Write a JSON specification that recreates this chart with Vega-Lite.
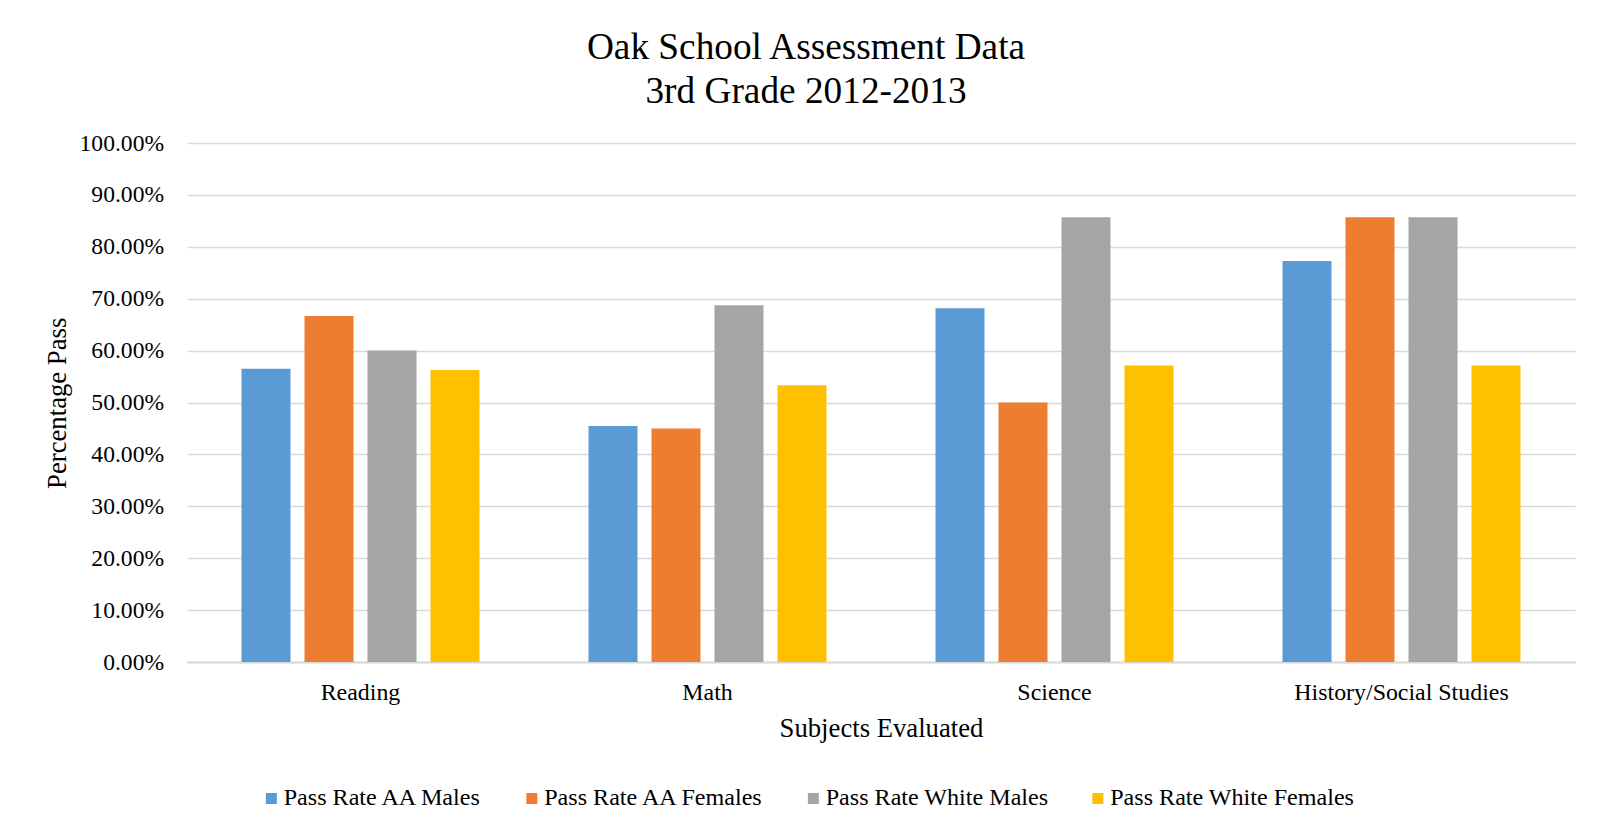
{
  "$schema": "https://vega.github.io/schema/vega-lite/v6.json",
  "width": 1388,
  "height": 519,
  "autosize": "none",
  "padding": {"left": 187, "top": 143, "right": 25, "bottom": 169},
  "background": "white",
  "config": {"view": {"stroke": null}},
  "title": {
    "text": ["Oak School Assessment Data", "3rd Grade 2012-2013"],
    "font": "Liberation Serif",
    "fontSize": 37.3,
    "fontWeight": "normal",
    "color": "black",
    "anchor": "middle",
    "frame": "group",
    "baseline": "bottom",
    "lineHeight": 43.7,
    "dx": -75,
    "offset": -17
  },
  "data": {
    "values": [
      {"subject": "Reading", "group": "Pass Rate AA Males", "rate": 0.5652},
      {"subject": "Reading", "group": "Pass Rate AA Females", "rate": 0.6667},
      {"subject": "Reading", "group": "Pass Rate White Males", "rate": 0.6},
      {"subject": "Reading", "group": "Pass Rate White Females", "rate": 0.5625},
      {"subject": "Math", "group": "Pass Rate AA Males", "rate": 0.4545},
      {"subject": "Math", "group": "Pass Rate AA Females", "rate": 0.45},
      {"subject": "Math", "group": "Pass Rate White Males", "rate": 0.6875},
      {"subject": "Math", "group": "Pass Rate White Females", "rate": 0.5333},
      {"subject": "Science", "group": "Pass Rate AA Males", "rate": 0.6818},
      {"subject": "Science", "group": "Pass Rate AA Females", "rate": 0.5},
      {"subject": "Science", "group": "Pass Rate White Males", "rate": 0.8571},
      {"subject": "Science", "group": "Pass Rate White Females", "rate": 0.5714},
      {"subject": "History/Social Studies", "group": "Pass Rate AA Males", "rate": 0.7727},
      {"subject": "History/Social Studies", "group": "Pass Rate AA Females", "rate": 0.8571},
      {"subject": "History/Social Studies", "group": "Pass Rate White Males", "rate": 0.8571},
      {"subject": "History/Social Studies", "group": "Pass Rate White Females", "rate": 0.5714}
    ]
  },
  "mark": {"type": "bar"},
  "encoding": {
    "x": {
      "field": "subject",
      "type": "nominal",
      "sort": ["Reading", "Math", "Science", "History/Social Studies"],
      "scale": {"paddingInner": 0, "paddingOuter": 0},
      "title": "Subjects Evaluated",
      "axis": {
        "labelAngle": 0,
        "labelFont": "Liberation Serif",
        "labelFontSize": 23.9,
        "labelColor": "black",
        "labelBaseline": "alphabetic",
        "labelPadding": 37,
        "labelLimit": 400,
        "ticks": false,
        "tickSize": 0,
        "domain": true,
        "domainColor": "#d9d9d9",
        "domainWidth": 2,
        "grid": false,
        "titleFont": "Liberation Serif",
        "titleFontSize": 26.7,
        "titleFontWeight": "normal",
        "titleColor": "black",
        "titleBaseline": "alphabetic",
        "titleY": 74.4
      }
    },
    "xOffset": {
      "field": "group",
      "sort": ["Pass Rate AA Males", "Pass Rate AA Females", "Pass Rate White Males", "Pass Rate White Females"],
      "scale": {"paddingInner": 0.222, "paddingOuter": 0.865}
    },
    "y": {
      "field": "rate",
      "type": "quantitative",
      "scale": {"domain": [0, 1], "nice": false},
      "title": "Percentage Pass",
      "axis": {
        "values": [0, 0.1, 0.2, 0.3, 0.4, 0.5, 0.6, 0.7, 0.8, 0.9, 1],
        "format": ".2%",
        "labelFont": "Liberation Serif",
        "labelFontSize": 23.6,
        "labelColor": "black",
        "labelPadding": 23.4,
        "ticks": false,
        "tickSize": 0,
        "domain": false,
        "grid": true,
        "gridColor": "#d9d9d9",
        "gridWidth": 1.3,
        "titleFont": "Liberation Serif",
        "titleFontSize": 26.7,
        "titleFontWeight": "normal",
        "titleColor": "black",
        "titleAngle": 270,
        "titleAlign": "center",
        "titleBaseline": "alphabetic",
        "titleX": -122,
        "titleY": 259.8
      }
    },
    "color": {
      "field": "group",
      "type": "nominal",
      "scale": {
        "domain": ["Pass Rate AA Males", "Pass Rate AA Females", "Pass Rate White Males", "Pass Rate White Females"],
        "range": ["#5b9bd5", "#ed7d31", "#a5a5a5", "#ffc000"]
      },
      "legend": {
        "title": null,
        "orient": "none",
        "direction": "horizontal",
        "legendX": 72.3,
        "legendY": 643,
        "padding": 0,
        "symbolType": "square",
        "symbolSize": 121,
        "symbolStrokeWidth": 0,
        "labelFont": "Liberation Serif",
        "labelFontSize": 24.1,
        "labelColor": "black",
        "labelOffset": 0.3,
        "columnPadding": 36.5,
        "labelLimit": 400
      }
    }
  }
}
